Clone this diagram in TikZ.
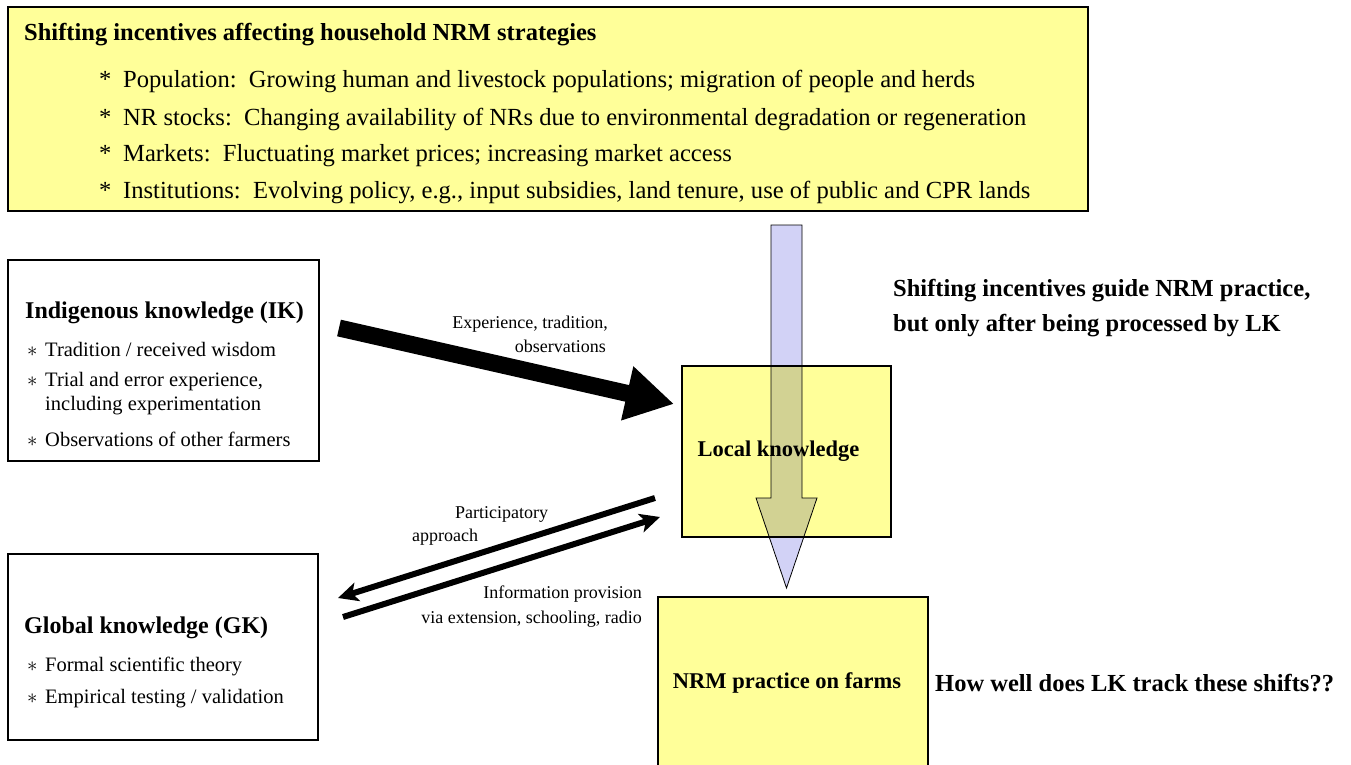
\documentclass[tikz,border=0pt]{standalone}
\usepackage{fontspec}
\setmainfont{Liberation Serif}
\usetikzlibrary{arrows.meta}
\definecolor{boxyellow}{RGB}{255,255,153}
\definecolor{lav}{RGB}{210,210,246}
\begin{document}
\begin{tikzpicture}[x=1pt,y=-1pt,
  box/.style={draw=black, line width=1.2pt, anchor=north west, inner sep=0pt, outer sep=0pt},
  ybox/.style={box, fill=boxyellow},
  wbox/.style={box, fill=white},
  bigr/.style={font=\fontsize{24.6}{29}\selectfont},
  bigb/.style={font=\fontsize{24.5}{29}\selectfont\bfseries},
  ttl/.style={font=\fontsize{24}{28}\selectfont\bfseries},
  bul/.style={font=\fontsize{20.5}{24}\selectfont},
  lbl/.style={font=\fontsize{18}{21}\selectfont},
  lt/.style={anchor=base west, inner sep=0pt},
  rt/.style={anchor=base east, inner sep=0pt},
  ct/.style={anchor=center, inner sep=0pt},
  fatarrow/.style={line width=17pt, -{Triangle[length=48pt,width=52pt]}},
  thinarrow/.style={line width=6pt, -{Stealth[length=20pt,width=19pt,inset=5pt]}},
  blockarrow/.style={fill=lav, draw=black, line width=0.8pt, line join=miter, blend mode=multiply}
]
\useasboundingbox (0,0) rectangle (1351,765);

% top box
\node[ybox, minimum width=1080pt, minimum height=204pt] (top) at (8,7) {};
\node[lt, bigb] (toptitle) at (24,41) {Shifting incentives affecting household NRM strategies};
\node[lt, bigr] (l1) at (99,88) {\makebox[24pt][l]{*}Population:\ \ Growing human and livestock populations; migration of people and herds};
\node[lt, bigr] (l2) at (99,125) {\makebox[24pt][l]{*}NR stocks:\ \ Changing availability of NRs due to environmental degradation or regeneration};
\node[lt, bigr] (l3) at (99,161) {\makebox[24pt][l]{*}Markets:\ \ Fluctuating market prices; increasing market access};
\node[lt, bigr] (l4) at (99,198) {\makebox[24pt][l]{*}Institutions:\ \ Evolving policy, e.g., input subsidies, land tenure, use of public and CPR lands};

% IK box
\node[wbox, minimum width=311pt, minimum height=201pt] (ik) at (8,260) {};
\node[lt, ttl] (iktitle) at (25,318) {Indigenous knowledge (IK)};
\node[lt, bul] (ik1) at (27,356) {\makebox[18pt][l]{$\ast$}Tradition / received wisdom};
\node[lt, bul] (ik2) at (27,386) {\makebox[18pt][l]{$\ast$}Trial and error experience,};
\node[lt, bul] (ik2b) at (45,410) {including experimentation};
\node[lt, bul] (ik3) at (27,446) {\makebox[18pt][l]{$\ast$}Observations of other farmers};

% GK box
\node[wbox, minimum width=310pt, minimum height=186pt] (gk) at (8,554) {};
\node[lt, ttl] (gktitle) at (24,633) {Global knowledge (GK)};
\node[lt, bul] (gk1) at (27,671) {\makebox[18pt][l]{$\ast$}Formal scientific theory};
\node[lt, bul] (gk2) at (27,703) {\makebox[18pt][l]{$\ast$}Empirical testing / validation};

% LK and NRM boxes
\node[ybox, minimum width=209pt, minimum height=171pt] (lk) at (682,366) {};
\node[ct, font=\fontsize{22.5}{26}\selectfont\bfseries] (lktext) at (778.5,451) {Local knowledge};
\node[ybox, minimum width=270pt, minimum height=180pt] (nrm) at (658,597) {};
\node[ct, font=\fontsize{22.5}{26}\selectfont\bfseries] (nrmtext) at (787,683) {NRM practice on farms};

% right texts
\node[lt, bigb] (guide1) at (893,296) {Shifting incentives guide NRM practice,};
\node[lt, bigb] (guide2) at (893,331) {but only after being processed by LK};
\node[lt, bigb] (track) at (935,691) {How well does LK track these shifts??};

% block arrow (incentives -> NRM practice)
\coordinate (batop) at (786.5,225);
\coordinate (batip) at (786.5,588);
\filldraw[blockarrow] (batop) ++(-15.5,0) -- ++(31,0) -- ++(0,273) -- ++(15,0) -- (batip) -- ++(-30.5,-90) -- ++(15,0) -- cycle;

% thick arrow IK -> LK
\coordinate (fatstart) at (339,328);
\coordinate (fatend) at (674,404);
\draw[fatarrow] (fatstart) -- (fatend);
\node[rt, lbl] (exp1) at (608,328) {Experience, tradition,};
\node[rt, lbl] (exp2) at (606,352) {observations};

% participatory / information arrows
\coordinate (pstart) at (655,498);
\coordinate (pend) at (338,598);
\draw[thinarrow] (pstart) -- (pend);
\coordinate (istart) at (343,617);
\coordinate (iend) at (660,517);
\draw[thinarrow] (istart) -- (iend);
\node[lt, lbl] (part1) at (455,518) {Participatory};
\node[lt, lbl] (part2) at (412,541) {approach};
\node[rt, lbl] (info1) at (642,598) {Information provision};
\node[rt, lbl] (info2) at (642,623) {via extension, schooling, radio};
\end{tikzpicture}
\end{document}
